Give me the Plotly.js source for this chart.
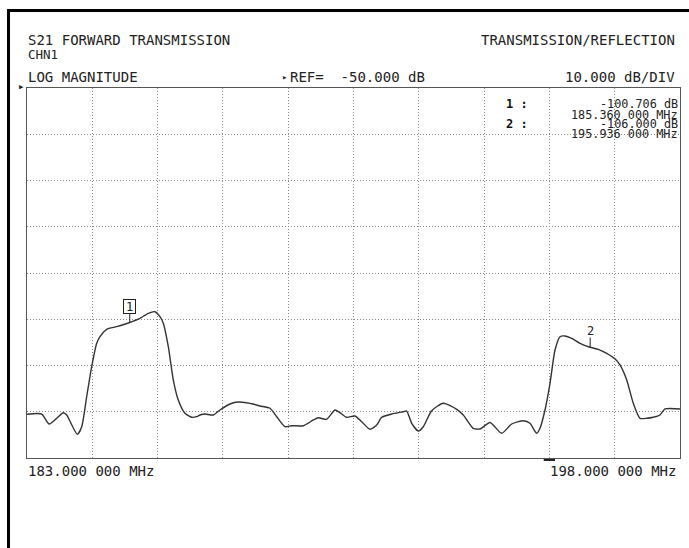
<!DOCTYPE html>
<html>
<head>
<meta charset="utf-8">
<script src="https://cdn.plot.ly/plotly-3.0.1.min.js"></script>
<style>
  html, body { margin: 0; padding: 0; background: #fff; }
  #chart { width: 689px; height: 548px; }
</style>
</head>
<body>
<div id="chart"></div>
<script>
// ---- data ----
const freqMHz = [183.000, 183.338, 183.512, 183.834, 183.912, 184.155, 184.257, 184.371, 184.486, 184.601,
  184.677, 184.831, 185.060, 185.343, 185.596, 185.786, 185.940, 186.055, 186.131, 186.246,
  186.361, 186.475, 186.629, 186.783, 186.898, 186.974, 187.089, 187.280, 187.433, 187.663,
  187.854, 188.191, 188.352, 188.582, 188.736, 188.926, 189.080, 189.347, 189.577, 189.691,
  189.884, 190.075, 190.190, 190.344, 190.534, 190.688, 190.879, 191.033, 191.148, 191.377,
  191.644, 191.722, 191.837, 191.988, 192.103, 192.296, 192.563, 192.871, 193.022, 193.252,
  193.406, 193.636, 193.904, 194.134, 194.400, 194.554, 194.708, 194.784, 194.899, 195.014,
  195.129, 195.244, 195.358, 195.512, 195.703, 195.933, 196.123, 196.316, 196.510, 196.622,
  196.776, 196.927, 197.082, 197.235, 197.387, 197.540, 197.655, 198.000];
const s21dB = [-120.55, -120.49, -122.65, -120.21, -120.70, -124.88, -123.23, -116.75, -110.26, -105.20,
  -103.77, -102.17, -101.61, -100.75, -99.80, -98.71, -98.37, -99.45, -100.87, -105.94,
  -113.14, -117.46, -120.34, -121.20, -121.05, -120.70, -120.49, -120.70, -119.62, -118.32,
  -117.89, -118.32, -118.76, -119.25, -121.07, -123.23, -123.02, -123.02, -121.78, -121.29,
  -121.63, -119.62, -120.21, -121.20, -120.92, -122.16, -123.80, -122.87, -121.20, -120.49,
  -119.99, -119.84, -122.50, -124.16, -123.23, -119.78, -118.17, -119.47, -120.70, -123.58,
  -123.73, -122.32, -124.66, -122.65, -121.94, -122.50, -124.66, -123.58, -119.62, -113.85,
  -106.65, -103.77, -103.62, -104.12, -105.20, -106.06, -106.50, -107.36, -108.59, -109.89,
  -113.14, -118.17, -121.42, -121.42, -121.20, -120.70, -119.40, -119.40];

const markerLabels = ['1', '2'];
const markerFreq = [185.360, 195.936];
const markerDb = [-100.706, -106.000];

const startMHz = 183.0, stopMHz = 198.0;
const refDb = -50.0, dbPerDiv = 10.0, yDivs = 8, xDivs = 10;

const headerLeft = ['S21 FORWARD TRANSMISSION', 'CHN1', 'LOG MAGNITUDE'];
const headerRight = 'TRANSMISSION/REFLECTION';

// ---- layout helpers (pixel -> paper) ----
const W = 689, H = 548;
const M = {l: 27, r: 9, t: 88, b: 90};
const PW = W - M.l - M.r, PH = H - M.t - M.b;
const px = x => (x - M.l) / PW;
const py = y => (H - M.b - y) / PH;

const fmtMHz = f => { const s = f.toFixed(6); return s.slice(0, s.length - 3) + ' ' + s.slice(-3) + ' MHz'; };
const fmtDb = d => d.toFixed(3) + ' dB';

const FONT = 'DejaVu Sans Mono, Liberation Mono, monospace';
const TC = '#222';

const ann = [];
function txt(text, x, y, anchor, size, extra) {
  ann.push(Object.assign({
    text: text, xref: 'paper', yref: 'paper', x: px(x), y: py(y),
    xanchor: anchor, yanchor: 'middle', showarrow: false,
    font: {family: FONT, size: size, color: TC}
  }, extra || {}));
}

txt(headerLeft[0], 26, 40, 'left', 14);
txt(headerLeft[1], 26, 54, 'left', 12.5);
txt(headerLeft[2], 26, 77, 'left', 14);
txt(headerRight, 677, 40, 'right', 14);
txt(dbPerDiv.toFixed(3) + ' dB/DIV', 677, 77, 'right', 14);
txt('REF=  ' + refDb.toFixed(3) + ' dB', 288, 77, 'left', 14);
txt('\u25B8', 289, 77, 'right', 9);
txt('\u25B6', 26, 87.5, 'right', 7);
txt(fmtMHz(startMHz), 26, 471, 'left', 14);
txt(fmtMHz(stopMHz), 678, 471, 'right', 14);

// marker readout (lines are packed tightly, as on the instrument screen)
markerLabels.forEach((lab, i) => {
  const y0 = 104 + i * 19.5;
  txt(lab + ' :', 504, y0, 'left', 12, {font: {family: FONT, size: 12, color: '#111', weight: 'bold'}});
  txt(fmtDb(markerDb[i]), 680, y0, 'right', 11.8);
  txt(fmtMHz(markerFreq[i]), 680, y0 + 10.5, 'right', 11.8);
});

// marker flags on the trace
markerLabels.forEach((lab, i) => {
  ann.push({
    text: lab, x: markerFreq[i], y: markerDb[i], xref: 'x', yref: 'y',
    showarrow: true, arrowhead: 0, arrowwidth: 1, arrowcolor: '#222',
    ax: 0, ay: -16.5, standoff: 0,
    font: {family: FONT, size: 12, color: '#222'},
    bordercolor: i === 0 ? '#222' : 'rgba(0,0,0,0)', borderwidth: 1, borderpad: 0,
    width: 11, height: 13
  });
});

const frameL = 8.5, frameT = 10.5;
const shapes = [
  {type: 'line', xref: 'paper', yref: 'paper', x0: px(frameL), x1: px(frameL), y0: py(frameT - 1.5), y1: py(H + 2), line: {color: '#000', width: 3}},
  {type: 'line', xref: 'paper', yref: 'paper', x0: px(frameL - 1.5), x1: px(W + 2), y0: py(frameT), y1: py(frameT), line: {color: '#000', width: 3}},
  {type: 'line', xref: 'x', yref: 'paper', x0: 194.87, x1: 195.13, y0: py(460), y1: py(460), line: {color: '#222', width: 2}}
];

const trace = {
  x: freqMHz, y: s21dB, type: 'scatter', mode: 'lines',
  line: {color: '#333', width: 1.4, shape: 'spline', smoothing: 0.6},
  hoverinfo: 'x+y'
};

const axisCommon = {
  showgrid: true, gridcolor: '#888', griddash: '1px,2px', gridwidth: 1,
  zeroline: false, showticklabels: false, ticks: '',
  showline: true, mirror: true, linecolor: '#555', linewidth: 1.2, fixedrange: true
};

const layout = {
  width: W, height: H, margin: M,
  paper_bgcolor: '#fff', plot_bgcolor: '#fff', showlegend: false,
  xaxis: Object.assign({}, axisCommon, {range: [startMHz, stopMHz], dtick: (stopMHz - startMHz) / xDivs, tick0: startMHz}),
  yaxis: Object.assign({}, axisCommon, {range: [refDb - dbPerDiv * yDivs, refDb], dtick: dbPerDiv, tick0: refDb}),
  annotations: ann, shapes: shapes
};

Plotly.newPlot('chart', [trace], layout, {displayModeBar: false, staticPlot: true});
</script>
</body>
</html>
